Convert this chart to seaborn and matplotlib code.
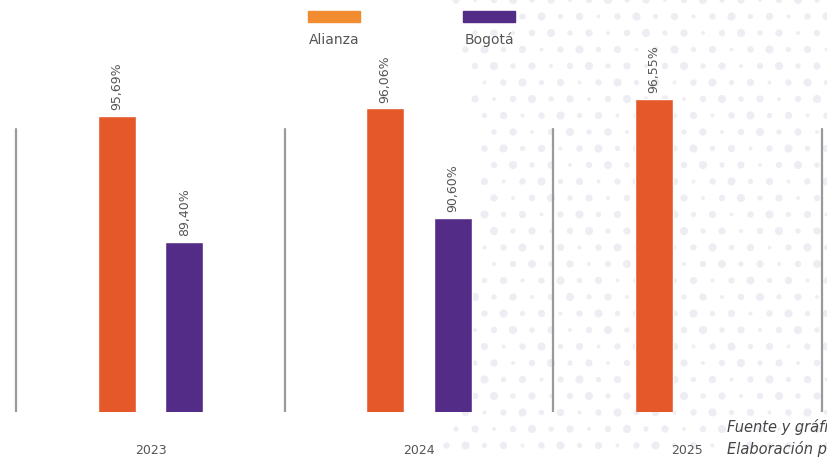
import numpy as np
import pandas as pd
import matplotlib.pyplot as plt
import seaborn as sns
from matplotlib.patches import Rectangle

# Chart data
years = ["2023", "2024", "2025"]
alianza = [95.69, 96.06, 96.55]
bogota = [89.40, 90.60, None]
series = ["Alianza", "Bogotá"]

bar_colors = {"Alianza": "#E5582A", "Bogotá": "#532C87"}
legend_colors = {"Alianza": "#F28C30", "Bogotá": "#532C87"}

rows = []
for y, a, b in zip(years, alianza, bogota):
    rows.append({"year": y, "serie": "Alianza", "value": a})
    if b is not None:
        rows.append({"year": y, "serie": "Bogotá", "value": b})
df = pd.DataFrame(rows)

sns.set_theme(style="white")
plt.rcParams['font.family'] = ['DejaVu Sans']

W, H = 827, 458
fig = plt.figure(figsize=(W / 100, H / 100), dpi=100)
fig.patch.set_facecolor("white")

# faint dotted background on the right side
bg = fig.add_axes([0, 0, 1, 1], zorder=0)
bg.set_xlim(0, W)
bg.set_ylim(H, 0)
bg.axis("off")
gx, gy = np.meshgrid(np.arange(0, W + 20, 19.0), np.arange(0, H + 20, 16.5))
gx = gx + (np.arange(gy.shape[0])[:, None] % 2) * 9.5
ii, jj = np.meshgrid(np.arange(gx.shape[1]), np.arange(gx.shape[0]))
sizes = 8 + 26 * (((ii * 7 + jj * 3) % 5) / 4.0)
edge = 455 + 25 * np.sin(gy / 120.0)
mask = gx > edge
bg.scatter(gx[mask], gy[mask], s=sizes[mask], color="#EDEDF3", linewidths=0)

ax = fig.add_axes([0, (H - 412) / H, 1, 362 / H], zorder=1)
ax.patch.set_alpha(0)

sns.barplot(data=df, x="year", y="value", hue="serie", order=years,
            hue_order=series, palette=bar_colors, width=0.505, gap=0.44,
            saturation=1, legend=False, ax=ax)

ax.set_ylim(80.88, 98.98)
ax.set_xlim(-0.5605, 2.5196)
for s in ax.spines.values():
    s.set_visible(False)
ax.set_yticks([])
ax.set_xlabel("")
ax.set_ylabel("")
ax.tick_params(axis="x", length=0, pad=23, labelsize=9, labelcolor="#555555")

# separators between year groups
for i in range(len(years) + 1):
    ax.axvline(i - 0.5, ymin=0, ymax=(412 - 129) / 362, color="#9A9A9A", lw=1.6)

for cont in ax.containers:
    labels = [f"{v:.2f}%".replace(".", ",") for v in cont.datavalues]
    ax.bar_label(cont, labels=labels, rotation=90, padding=4,
                 fontsize=9, color="#555555")

# legend drawn manually: swatch above label
for name, px in zip(series, [308, 463]):
    fig.add_artist(Rectangle((px / W, 1 - 22 / H), 52 / W, 11 / H,
                             transform=fig.transFigure,
                             color=legend_colors[name]))
    fig.text((px + 26) / W, 1 - 40 / H, name, ha="center", va="center",
             fontsize=10, color="#555555")

fig.text(727 / W, 1 - 427 / H, "Fuente y gráfica: Alianza", ha="left",
         va="center", fontsize=10.5, style="italic", color="#444444")
fig.text(727 / W, 1 - 449 / H, "Elaboración propia", ha="left",
         va="center", fontsize=10.5, style="italic", color="#444444")

fig.savefig("out.png", dpi=100)
